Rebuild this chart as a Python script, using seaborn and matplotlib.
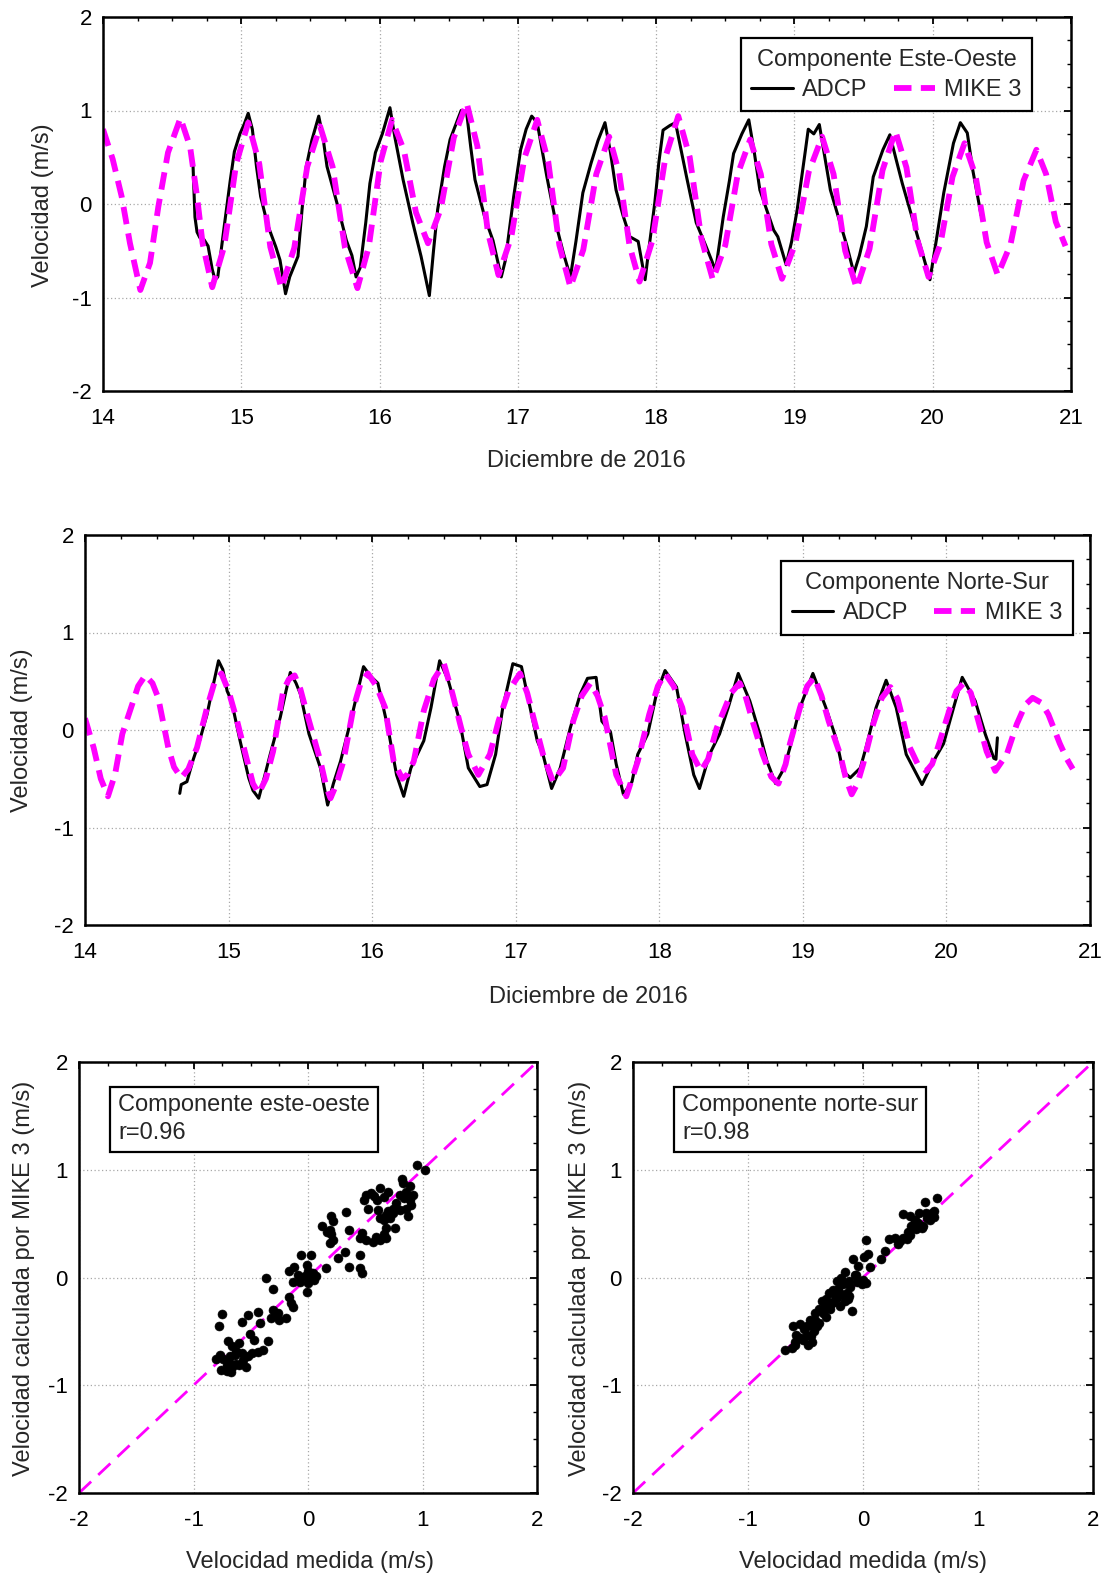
import matplotlib
matplotlib.use("Agg")
import matplotlib.pyplot as plt
from matplotlib.ticker import MultipleLocator
import seaborn as sns
import pandas as pd

# ---------------------------------------------------------------------------
# Data: current velocity (m/s), December 2016 (day of month as decimal)
# ---------------------------------------------------------------------------
# East-West component, MIKE 3 model (day, velocity)
ew_mike = [
    (14.00, 0.80), (14.07, 0.48), (14.135, 0.08), (14.195, -0.42), (14.27, -0.92),
    (14.34, -0.63), (14.40, -0.03), (14.47, 0.55), (14.56, 0.92), (14.63, 0.61),
    (14.68, 0.08), (14.72, -0.42), (14.79, -0.89), (14.877, -0.45), (14.963, 0.43),
    (15.05, 0.87), (15.13, 0.43), (15.21, -0.46), (15.29, -0.90), (15.383, -0.47),
    (15.477, 0.40), (15.57, 0.83), (15.66, 0.40), (15.75, -0.47), (15.84, -0.90),
    (15.923, -0.45), (16.007, 0.45), (16.09, 0.90), (16.177, 0.57), (16.263, -0.09),
    (16.35, -0.42), (16.443, -0.05), (16.537, 0.71), (16.63, 1.08), (16.707, 0.62),
    (16.783, -0.30), (16.86, -0.76), (16.953, -0.35), (17.047, 0.49), (17.14, 0.90),
    (17.22, 0.45), (17.30, -0.44), (17.38, -0.89), (17.473, -0.49), (17.567, 0.32),
    (17.66, 0.72), (17.733, 0.33), (17.807, -0.44), (17.88, -0.83), (17.973, -0.39),
    (18.067, 0.50), (18.16, 0.94), (18.243, 0.50), (18.327, -0.37), (18.41, -0.81),
    (18.50, -0.44), (18.59, 0.32), (18.68, 0.69), (18.757, 0.32), (18.833, -0.43),
    (18.91, -0.80), (19.007, -0.42), (19.103, 0.34), (19.20, 0.72), (19.283, 0.32),
    (19.367, -0.50), (19.45, -0.90), (19.543, -0.48), (19.637, 0.36), (19.73, 0.78),
    (19.81, 0.39), (19.89, -0.39), (19.97, -0.78), (20.057, -0.42), (20.143, 0.29),
    (20.23, 0.65), (20.31, 0.30), (20.39, -0.41), (20.47, -0.76), (20.563, -0.43),
    (20.657, 0.25), (20.75, 0.58), (20.82, 0.32), (20.89, -0.19), (20.96, -0.45),
]

# East-West component, ADCP measurements (day, velocity)
ew_adcp = [
    (14.65, 0.45), (14.665, -0.14), (14.68, -0.30), (14.70, -0.36), (14.73, -0.38),
    (14.76, -0.45), (14.79, -0.70), (14.81, -0.81), (14.83, -0.78), (14.88, -0.20),
    (14.92, 0.25), (14.95, 0.56), (14.99, 0.75), (15.02, 0.85), (15.05, 0.97),
    (15.08, 0.80), (15.11, 0.40), (15.14, 0.08), (15.19, -0.22), (15.25, -0.46),
    (15.28, -0.60), (15.32, -0.96), (15.35, -0.78), (15.41, -0.56), (15.44, -0.05),
    (15.47, 0.40), (15.51, 0.68), (15.56, 0.94), (15.59, 0.72), (15.62, 0.40),
    (15.69, 0.02), (15.76, -0.39), (15.80, -0.55), (15.83, -0.78), (15.86, -0.68),
    (15.90, -0.20), (15.93, 0.22), (15.97, 0.55), (16.02, 0.75), (16.075, 1.03),
    (16.11, 0.72), (16.17, 0.26), (16.24, -0.20), (16.30, -0.56), (16.36, -0.98),
    (16.39, -0.50), (16.42, -0.06), (16.47, 0.40), (16.51, 0.69), (16.59, 1.00),
    (16.63, 0.97), (16.66, 0.60), (16.69, 0.26), (16.76, -0.14), (16.82, -0.39),
    (16.88, -0.78), (16.91, -0.60), (16.97, 0.08), (17.02, 0.58), (17.06, 0.80),
    (17.10, 0.94), (17.14, 0.87), (17.21, 0.29), (17.28, -0.24), (17.33, -0.53),
    (17.38, -0.78), (17.42, -0.40), (17.47, 0.12), (17.53, 0.44), (17.58, 0.68),
    (17.63, 0.87), (17.67, 0.55), (17.71, 0.15), (17.76, -0.12), (17.81, -0.35),
    (17.87, -0.40), (17.92, -0.81), (17.95, -0.45), (17.99, 0.01), (18.02, 0.45),
    (18.05, 0.79), (18.10, 0.84), (18.14, 0.87), (18.22, 0.29), (18.29, -0.20),
    (18.36, -0.45), (18.43, -0.71), (18.46, -0.40), (18.485, -0.14), (18.53, 0.25),
    (18.56, 0.54), (18.62, 0.75), (18.67, 0.90), (18.71, 0.55), (18.75, 0.15),
    (18.85, -0.28), (18.88, -0.35), (18.94, -0.65), (18.98, -0.40), (19.02, -0.06),
    (19.08, 0.58), (19.10, 0.80), (19.14, 0.75), (19.18, 0.85), (19.22, 0.50),
    (19.26, 0.15), (19.33, -0.20), (19.38, -0.45), (19.43, -0.74), (19.47, -0.55),
    (19.52, -0.24), (19.57, 0.29), (19.64, 0.58), (19.69, 0.74), (19.74, 0.45),
    (19.78, 0.22), (19.87, -0.24), (19.93, -0.55), (19.98, -0.81), (20.03, -0.35),
    (20.08, 0.12), (20.15, 0.65), (20.20, 0.87), (20.25, 0.76), (20.29, 0.36),
    (20.35, -0.12),
]

# North-South component, MIKE 3 model (day, velocity)
ns_mike = [
    (14.00, 0.12), (14.06, -0.18), (14.11, -0.50), (14.16, -0.68), (14.21, -0.45),
    (14.26, -0.04), (14.33, 0.27), (14.37, 0.45), (14.42, 0.56), (14.47, 0.48),
    (14.51, 0.33), (14.58, -0.18), (14.62, -0.38), (14.67, -0.49), (14.72, -0.40),
    (14.78, -0.18), (14.85, 0.23), (14.90, 0.48), (14.95, 0.58), (15.00, 0.40),
    (15.06, 0.09), (15.13, -0.32), (15.17, -0.55), (15.21, -0.65), (15.26, -0.50),
    (15.31, -0.22), (15.38, 0.40), (15.42, 0.52), (15.46, 0.56), (15.50, 0.42),
    (15.54, 0.20), (15.64, -0.32), (15.68, -0.58), (15.71, -0.70), (15.75, -0.56),
    (15.80, -0.32), (15.87, 0.23), (15.92, 0.48), (15.97, 0.58), (16.03, 0.45),
    (16.09, 0.23), (16.15, -0.32), (16.21, -0.50), (16.25, -0.45), (16.29, -0.32),
    (16.36, 0.20), (16.43, 0.52), (16.50, 0.68), (16.56, 0.37), (16.62, 0.02),
    (16.67, -0.25), (16.74, -0.46), (16.82, -0.25), (16.88, 0.09), (16.95, 0.40),
    (17.03, 0.58), (17.08, 0.38), (17.13, 0.09), (17.19, -0.25), (17.26, -0.53),
    (17.33, -0.39), (17.40, 0.09), (17.46, 0.35), (17.52, 0.48), (17.57, 0.35),
    (17.62, 0.13), (17.70, -0.46), (17.77, -0.68), (17.85, -0.32), (17.93, 0.16),
    (17.99, 0.45), (18.04, 0.58), (18.10, 0.45), (18.16, 0.23), (18.23, -0.25),
    (18.29, -0.42), (18.34, -0.30), (18.40, 0.02), (18.45, 0.20), (18.50, 0.38),
    (18.56, 0.48), (18.60, 0.35), (18.65, 0.09), (18.72, -0.25), (18.78, -0.48),
    (18.83, -0.55), (18.88, -0.35), (18.91, -0.14), (18.98, 0.23), (19.03, 0.45),
    (19.08, 0.54), (19.13, 0.35), (19.18, 0.09), (19.26, -0.25), (19.30, -0.50),
    (19.34, -0.66), (19.38, -0.55), (19.42, -0.35), (19.49, 0.06), (19.55, 0.33),
    (19.61, 0.44), (19.66, 0.32), (19.70, 0.09), (19.745, -0.18), (19.80, -0.35),
    (19.86, -0.42), (19.90, -0.35), (19.94, -0.18), (20.02, 0.20), (20.07, 0.40),
    (20.12, 0.48), (20.17, 0.38), (20.21, 0.16), (20.28, -0.22), (20.34, -0.42),
    (20.42, -0.25), (20.49, 0.06), (20.55, 0.26), (20.60, 0.33), (20.66, 0.28),
    (20.71, 0.16), (20.79, -0.14), (20.84, -0.30), (20.88, -0.40),
]

# North-South component, ADCP measurements (day, velocity)
ns_adcp = [
    (14.66, -0.65), (14.67, -0.56), (14.71, -0.53), (14.75, -0.32), (14.80, -0.10),
    (14.85, 0.16), (14.89, 0.44), (14.93, 0.71), (14.96, 0.62), (14.99, 0.40),
    (15.02, 0.30), (15.08, -0.11), (15.14, -0.49), (15.17, -0.62), (15.21, -0.70),
    (15.25, -0.48), (15.29, -0.25), (15.36, 0.13), (15.40, 0.40), (15.43, 0.59),
    (15.47, 0.48), (15.50, 0.37), (15.56, -0.04), (15.64, -0.39), (15.69, -0.77),
    (15.73, -0.55), (15.78, -0.32), (15.85, 0.09), (15.90, 0.40), (15.94, 0.65),
    (15.99, 0.55), (16.04, 0.48), (16.11, 0.02), (16.17, -0.46), (16.22, -0.68),
    (16.27, -0.39), (16.36, -0.11), (16.41, 0.23), (16.47, 0.71), (16.53, 0.51),
    (16.61, 0.09), (16.67, -0.39), (16.75, -0.58), (16.80, -0.56), (16.86, -0.25),
    (16.91, 0.23), (16.98, 0.68), (17.04, 0.65), (17.10, 0.23), (17.15, -0.11),
    (17.19, -0.25), (17.25, -0.60), (17.31, -0.39), (17.38, 0.02), (17.45, 0.37),
    (17.50, 0.53), (17.56, 0.54), (17.60, 0.09), (17.66, -0.02), (17.70, -0.35),
    (17.75, -0.66), (17.81, -0.53), (17.85, -0.25), (17.92, -0.04), (17.98, 0.37),
    (18.04, 0.61), (18.12, 0.44), (18.18, -0.04), (18.24, -0.46), (18.28, -0.60),
    (18.35, -0.25), (18.42, -0.04), (18.48, 0.23), (18.55, 0.58), (18.63, 0.30),
    (18.70, -0.04), (18.75, -0.32), (18.81, -0.55), (18.87, -0.39), (18.91, -0.18),
    (18.98, 0.23), (19.07, 0.58), (19.16, 0.23), (19.23, -0.08), (19.28, -0.42),
    (19.33, -0.49), (19.40, -0.39), (19.44, -0.18), (19.51, 0.23), (19.58, 0.51),
    (19.65, 0.23), (19.72, -0.25), (19.83, -0.56), (19.91, -0.32), (19.98, -0.14),
    (20.05, 0.23), (20.11, 0.54), (20.20, 0.30), (20.27, -0.04), (20.33, -0.29),
    (20.345, -0.30), (20.355, -0.08),
]

# Measured vs. modelled velocity pairs (measured, modelled)
ew_scatter = [
    (0.95, 1.04), (1.02, 1.00), (0.82, 0.91), (0.83, 0.88), (0.89, 0.85),
    (0.51, 0.77), (0.55, 0.78), (0.63, 0.83), (0.70, 0.79), (0.49, 0.72),
    (0.60, 0.72), (0.66, 0.75), (0.80, 0.77), (0.86, 0.79), (0.92, 0.77),
    (0.77, 0.69), (0.89, 0.72), (0.90, 0.67), (0.52, 0.64), (0.61, 0.63),
    (0.74, 0.64), (0.80, 0.63), (0.86, 0.64), (0.68, 0.58), (0.74, 0.60),
    (0.63, 0.55), (0.87, 0.57), (0.66, 0.53), (0.72, 0.55), (0.33, 0.61),
    (0.20, 0.57), (0.22, 0.52), (0.12, 0.48), (0.19, 0.44), (0.20, 0.40),
    (0.22, 0.35), (0.19, 0.32), (0.36, 0.44), (0.47, 0.41), (0.45, 0.37),
    (0.68, 0.46), (0.76, 0.46), (0.51, 0.35), (0.57, 0.33), (0.63, 0.35),
    (0.66, 0.40), (0.68, 0.37), (0.32, 0.24), (0.26, 0.18), (0.45, 0.21),
    (0.36, 0.10), (0.45, 0.09), (0.47, 0.04), (-0.06, 0.21), (0.03, 0.21),
    (-0.12, 0.10), (-0.17, 0.06), (-0.01, 0.12), (0.00, 0.06), (0.04, 0.04),
    (0.07, 0.01), (0.01, -0.01), (-0.03, 0.01), (0.16, 0.09), (-0.13, -0.04),
    (-0.07, -0.04), (0.00, -0.05), (-0.01, -0.13), (-0.37, 0.00), (-0.31, -0.11),
    (-0.17, -0.18), (-0.15, -0.24), (-0.13, -0.27), (-0.31, -0.30), (-0.26, -0.33),
    (-0.32, -0.38), (-0.25, -0.39), (-0.19, -0.38), (-0.44, -0.32), (-0.42, -0.42),
    (-0.52, -0.35), (-0.58, -0.41), (-0.75, -0.34), (-0.78, -0.45), (-0.51, -0.52),
    (-0.47, -0.58), (-0.35, -0.59), (-0.39, -0.67), (-0.44, -0.69), (-0.70, -0.59),
    (-0.66, -0.64), (-0.60, -0.61), (-0.77, -0.72), (-0.74, -0.76), (-0.68, -0.73),
    (-0.64, -0.72), (-0.58, -0.70), (-0.52, -0.73), (-0.49, -0.70), (-0.71, -0.81),
    (-0.66, -0.83), (-0.60, -0.81), (-0.54, -0.83), (-0.76, -0.86), (-0.71, -0.87),
    (-0.67, -0.88), (-0.80, -0.76), (-0.57, -0.77), (-0.63, -0.80), (0.58, 0.76),
    (0.84, 0.74), (0.70, 0.62), (0.59, 0.38), (-0.09, 0.02), (0.05, -0.02),
    (-0.28, -0.36), (-0.63, -0.68), (-0.69, -0.78), (0.17, 0.42),
]

ns_scatter = [
    (-0.68, -0.67), (-0.59, -0.60), (-0.59, -0.63), (-0.48, -0.63), (-0.61, -0.45),
    (-0.55, -0.43), (-0.51, -0.48), (-0.49, -0.53), (-0.43, -0.50), (-0.46, -0.39),
    (-0.42, -0.33), (-0.38, -0.29), (-0.33, -0.26), (-0.42, -0.39), (-0.38, -0.42),
    (-0.32, -0.37), (-0.29, -0.29), (-0.26, -0.23), (-0.23, -0.19), (-0.19, -0.15),
    (-0.30, -0.14), (-0.26, -0.12), (-0.22, -0.11), (-0.14, -0.14), (-0.10, -0.31),
    (-0.13, -0.20), (-0.23, -0.03), (-0.19, 0.00), (-0.16, 0.05), (-0.17, -0.06),
    (-0.12, -0.03), (-0.07, 0.02), (-0.09, 0.17), (-0.04, 0.11), (0.00, -0.02),
    (0.03, -0.05), (-0.01, -0.06), (-0.06, 0.02), (0.01, 0.19), (0.04, 0.22),
    (0.03, 0.35), (0.16, 0.17), (0.19, 0.25), (0.23, 0.36), (0.28, 0.37),
    (0.32, 0.34), (0.35, 0.37), (0.38, 0.36), (0.41, 0.39), (0.35, 0.59),
    (0.41, 0.57), (0.45, 0.53), (0.42, 0.48), (0.49, 0.60), (0.55, 0.60),
    (0.58, 0.57), (0.62, 0.62), (0.48, 0.51), (0.52, 0.48), (0.58, 0.53),
    (0.62, 0.56), (0.54, 0.70), (0.64, 0.74), (0.46, 0.45), (0.51, 0.46),
    (-0.58, -0.53), (-0.54, -0.56), (-0.49, -0.45), (-0.45, -0.54), (-0.36, -0.22),
    (-0.32, -0.20), (-0.20, -0.26), (-0.16, -0.22), (-0.12, -0.17), (-0.62, -0.65),
    (-0.52, -0.58), (-0.40, -0.45), (-0.35, -0.33), (-0.28, -0.25), (-0.24, -0.16),
    (-0.11, -0.09), (-0.05, -0.04), (0.06, 0.10), (0.30, 0.31), (0.44, 0.50),
    (0.56, 0.55), (0.60, 0.60), (0.39, 0.42), (-0.47, -0.44), (-0.44, -0.60),
]

ew_r = 0.96
ns_r = 0.98
day_ticks = [14, 15, 16, 17, 18, 19, 20, 21]
vel_ticks = [-2, -1, 0, 1, 2]

MAGENTA = "#ff00ff"

# ---------------------------------------------------------------------------
sns.set_theme(style="white")
plt.rcParams["font.family"] = ["Liberation Sans", "DejaVu Sans"]
plt.rcParams["axes.unicode_minus"] = False

W, H = 1105, 1575
fig = plt.figure(figsize=(W / 100, H / 100), dpi=100)


def px_axes(x0, y0, x1, y1):
    """Create axes from pixel box (left, top, right, bottom)."""
    return fig.add_axes([x0 / W, 1 - y1 / H, (x1 - x0) / W, (y1 - y0) / H])


def style(ax, xlim, ylim, xticks):
    ax.set_xlim(*xlim)
    ax.set_ylim(*ylim)
    ax.set_xticks(xticks)
    ax.set_yticks(vel_ticks)
    ax.xaxis.set_minor_locator(MultipleLocator(0.25))
    ax.yaxis.set_minor_locator(MultipleLocator(0.25))
    ax.tick_params(which="both", direction="in", top=True, right=True,
                   colors="black", labelsize=16)
    ax.tick_params(axis="x", pad=12)
    ax.tick_params(axis="y", pad=8)
    ax.tick_params(which="major", length=5, width=1.3)
    ax.tick_params(which="minor", length=3, width=1.0)
    ax.grid(True, which="major", linestyle=(0, (1, 2)), color="#a8a8a8", lw=0.9)
    for s in ax.spines.values():
        s.set_linewidth(1.8)
        s.set_color("black")
    ax.set_xlabel("")
    ax.set_ylabel("")


def series_frame(pairs):
    return pd.DataFrame(pairs, columns=["dia", "vel"])


def time_panel(box, adcp, mike, title, legend_anchor):
    ax = px_axes(*box)
    a = series_frame(adcp)
    m = series_frame(mike)
    sns.lineplot(data=a, x="dia", y="vel", ax=ax, color="black", lw=2.2,
                 estimator=None, sort=False, label="ADCP")
    sns.lineplot(data=m, x="dia", y="vel", ax=ax, color=MAGENTA, lw=4.2,
                 estimator=None, sort=False, label="MIKE 3",
                 linestyle=(0, (3.0, 1.6)))
    style(ax, (14, 21), (-2, 2), day_ticks)
    leg = ax.legend(loc="upper right", bbox_to_anchor=legend_anchor,
                    borderaxespad=0, ncol=2, title=title, fontsize=17,
                    title_fontsize=17, frameon=True, fancybox=False,
                    handlelength=1.75, handletextpad=0.4, columnspacing=1.1,
                    borderpad=0.45, labelspacing=0.35)
    leg.get_frame().set_edgecolor("black")
    leg.get_frame().set_linewidth(1.6)
    leg.get_frame().set_alpha(1)
    return ax


time_panel((103, 17, 1071, 391), ew_adcp, ew_mike,
           "Componente Este-Oeste", (0.96, 0.944))
time_panel((85, 535, 1090, 925), ns_adcp, ns_mike,
           "Componente Norte-Sur", (0.983, 0.933))


def scatter_panel(box, pairs, text, text_x):
    ax = px_axes(*box)
    d = pd.DataFrame(pairs, columns=["medida", "calculada"])
    diag = pd.DataFrame({"medida": [-2, 2], "calculada": [-2, 2]})
    sns.lineplot(data=diag, x="medida", y="calculada", ax=ax, color=MAGENTA,
                 lw=2.0, linestyle=(0, (6, 3.5)), estimator=None)
    sns.scatterplot(data=d, x="medida", y="calculada", ax=ax, color="black",
                    s=42, edgecolor="black", linewidth=0.4, zorder=3)
    style(ax, (-2, 2), (-2, 2), vel_ticks)
    ax.text(text_x, 0.925, text, transform=ax.transAxes, ha="left", va="top",
            fontsize=17, linespacing=1.35,
            bbox=dict(boxstyle="square,pad=0.33", facecolor="white",
                      edgecolor="black", linewidth=1.6))
    return ax


scatter_panel((79, 1062, 537, 1493), ew_scatter,
              f"Componente este-oeste\nr={ew_r:.2f}", 0.085)
scatter_panel((633, 1062, 1093, 1493), ns_scatter,
              f"Componente norte-sur\nr={ns_r:.2f}", 0.1065)


def ftext(x, y, s, **kw):
    fig.text(x / W, 1 - y / H, s, ha="center", va="center", fontsize=17, **kw)


ftext(43, 205, "Velocidad (m/s)", rotation=90)
ftext(586, 461, "Diciembre de 2016")
ftext(22, 730, "Velocidad (m/s)", rotation=90)
ftext(588, 997, "Diciembre de 2016")
ftext(24, 1278, "Velocidad calculada por MIKE 3 (m/s)", rotation=90)
ftext(580, 1278, "Velocidad calculada por MIKE 3 (m/s)", rotation=90)
ftext(310, 1562, "Velocidad medida (m/s)")
ftext(863, 1562, "Velocidad medida (m/s)")

fig.savefig("out.png", dpi=100, facecolor="white")
